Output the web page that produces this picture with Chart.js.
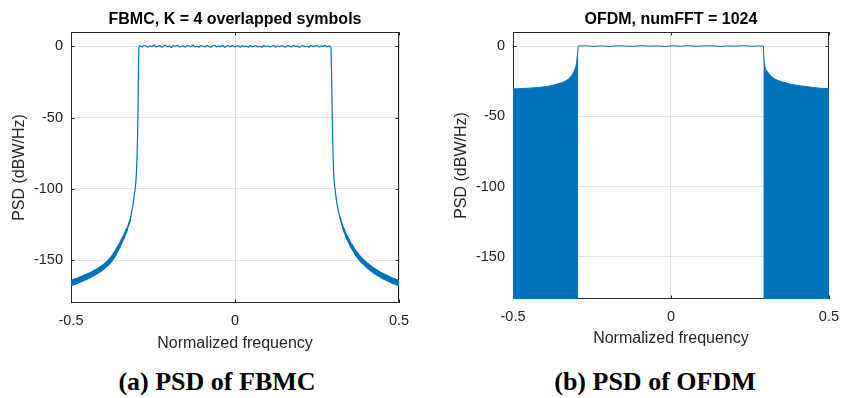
<!DOCTYPE html>
<html>
<head>
<meta charset="utf-8">
<script src="https://cdn.jsdelivr.net/npm/chart.js@4.4.1/dist/chart.umd.min.js"></script>
<style>
  html, body { margin: 0; padding: 0; background: #fff; }
  body { width: 848px; height: 398px; position: relative; overflow: hidden; }
  .panel { position: absolute; top: 0; }
  .caption {
    position: absolute;
    top: 367px;
    width: 424px;
    text-align: center;
    font: bold 26px/30px "Liberation Serif", "Times New Roman", serif;
    color: #000;
  }
</style>
</head>
<body>
<div class="panel" style="left:0"><canvas id="fbmc" width="424" height="360"></canvas></div>
<div class="panel" style="left:424px"><canvas id="ofdm" width="424" height="360"></canvas></div>
<div class="caption" style="left:5px">(a) PSD of FBMC</div>
<div class="caption" style="left:443px">(b) PSD of OFDM</div>

<script>
// axis ticks shared by both panels
const xTicks = [-0.5, 0, 0.5];
const yTicks = [-150, -100, -50, 0];
const yMin = -180;
const yMax = 10;

// FBMC: left skirt (freq, dB)
const fbmcLeftF  = [-0.500, -0.488, -0.470, -0.447, -0.425, -0.406, -0.390, -0.378, -0.366, -0.354, -0.340, -0.330, -0.320, -0.314, -0.309, -0.305, -0.302, -0.300, -0.2985, -0.297, -0.296, -0.295, -0.294, -0.293];
const fbmcLeftDb = [-166, -165, -163.3, -161, -158.3, -155.5, -152.5, -149.5, -145.5, -140.5, -134, -128.5, -122, -115, -108, -101, -94, -86, -76, -62, -48, -30, -12, -1];

// FBMC: passband ripple
const fbmcPassF  = [-0.290, -0.284, -0.278, -0.271, -0.266, -0.259, -0.254, -0.246, -0.242, -0.235, -0.230, -0.223, -0.218, -0.211, -0.206, -0.199, -0.194, -0.188, -0.182, -0.175, -0.170, -0.163, -0.158, -0.152, -0.146, -0.139, -0.134, -0.128, -0.122, -0.115, -0.110, -0.104, -0.098, -0.091, -0.086, -0.079, -0.074, -0.068, -0.062, -0.056, -0.050, -0.044, -0.038, -0.031, -0.026, -0.020, -0.014, -0.008, -0.002, 0.004, 0.010, 0.016, 0.022, 0.028, 0.034, 0.041, 0.046, 0.052, 0.058, 0.064, 0.070, 0.077, 0.082, 0.088, 0.094, 0.100, 0.106, 0.113, 0.118, 0.124, 0.130, 0.136, 0.142, 0.149, 0.154, 0.160, 0.166, 0.172, 0.178, 0.185, 0.190, 0.196, 0.202, 0.208, 0.214, 0.221, 0.226, 0.232, 0.238, 0.244, 0.250, 0.257, 0.262, 0.268, 0.274, 0.280, 0.286];
const fbmcPassDb = [0.4, -0.5, 0.7, 0.1, -0.6, 0.3, -0.2, 0.8, -0.4, -0.1, 0.5, -0.7, 0.2, 0.6, -0.3, 0.1, -0.8, 0.4, 0.0, 0.7, -0.5, -0.2, 0.3, -0.6, 0.5, 0.1, -0.4, 0.8, -0.3, 0.0, -0.7, 0.4, 0.2, -0.5, 0.6, -0.1, -0.6, 0.3, 0.7, -0.4, 0.1, -0.2, 0.5, -0.8, 0.2, 0.4, -0.3, 0.6, -0.5, 0.0, 0.3, -0.7, 0.5, -0.1, 0.2, -0.6, 0.7, -0.3, 0.1, 0.4, -0.5, 0.2, -0.8, 0.6, -0.2, 0.3, -0.4, 0.0, 0.7, -0.6, 0.2, -0.3, 0.5, -0.1, -0.7, 0.4, 0.1, -0.5, 0.6, -0.2, 0.3, -0.8, 0.2, 0.5, -0.4, 0.0, -0.6, 0.7, -0.3, 0.1, 0.4, -0.5, 0.2, -0.1, 0.6, -0.4, 0.3];

// FBMC: right skirt
const fbmcRightF  = [0.2927, 0.2940, 0.2955, 0.2970, 0.2985, 0.3000, 0.3020, 0.3055, 0.3100, 0.3150, 0.3200, 0.3300, 0.3405, 0.3550, 0.3700, 0.3860, 0.4050, 0.4270, 0.4500, 0.4820, 0.5000];
const fbmcRightDb = [-1, -14, -35, -55, -72, -84, -93, -101, -109, -115, -120, -127.5, -133.5, -140, -145.5, -150, -154, -157.8, -161, -164.5, -166];

// OFDM: out-of-band envelope (filled to the bottom) and passband
const ofdmLeftF  = [-0.500, -0.450, -0.420, -0.386, -0.360, -0.335, -0.320, -0.309, -0.302, -0.299, -0.296, -0.294, -0.2935];
const ofdmLeftDb = [-30.5, -30, -29.5, -28.5, -27, -25, -22.5, -19, -15, -12, -6, -1, 0];
const ofdmPassF  = [-0.2935, -0.270, -0.245, -0.220, -0.195, -0.170, -0.145, -0.120, -0.095, -0.070, -0.045, -0.020, 0.005, 0.030, 0.055, 0.080, 0.105, 0.130, 0.155, 0.180, 0.205, 0.230, 0.255, 0.280, 0.2925];
const ofdmPassDb = [0, 0.2, -0.2, 0.1, -0.3, 0.2, 0, -0.2, 0.3, -0.1, 0.1, -0.3, 0.2, -0.1, 0.3, -0.2, 0.1, 0.2, -0.3, 0.1, -0.1, 0.3, -0.2, 0.1, 0];
const ofdmRightF  = [0.2925, 0.2930, 0.2950, 0.2970, 0.3050, 0.3150, 0.3320, 0.3600, 0.3830, 0.4340, 0.4700, 0.5000];
const ofdmRightDb = [0, -3, -10, -14, -18, -21, -23.8, -26, -27.4, -29, -30, -30.4];

const BLUE = "#0072BD";
const AXIS = "#262626";
const GRID = "#e3e3e3";
const FONT = "'Liberation Sans', Arial, sans-serif";

function pts(xs, ys) {
  return xs.map((x, i) => ({ x, y: ys[i] }));
}

// MATLAB style box with inward tick marks, drawn under the data
const boxPlugin = {
  id: "box",
  beforeDatasetsDraw(chart) {
    const { ctx, chartArea: a, scales } = chart;
    ctx.save();
    ctx.strokeStyle = AXIS;
    ctx.lineWidth = 1;
    ctx.strokeRect(Math.round(a.left) + 0.5, Math.round(a.top) + 0.5, Math.round(a.right - a.left) - 1, Math.round(a.bottom - a.top) - 1);
    ctx.beginPath();
    const tl = 3.5;
    for (const v of xTicks) {
      const x = Math.round(scales.x.getPixelForValue(v)) + 0.5;
      ctx.moveTo(x, a.bottom); ctx.lineTo(x, a.bottom - tl);
      ctx.moveTo(x, a.top); ctx.lineTo(x, a.top + tl);
    }
    for (const v of yTicks) {
      const y = Math.round(scales.y.getPixelForValue(v)) + 0.5;
      ctx.moveTo(a.left, y); ctx.lineTo(a.left + tl, y);
      ctx.moveTo(a.right, y); ctx.lineTo(a.right - tl, y);
    }
    ctx.stroke();
    ctx.restore();
  },
};

function makeChart(id, title, datasets, opt) {
  return new Chart(document.getElementById(id), {
    type: "line",
    data: { datasets },
    options: {
      responsive: false,
      animation: false,
      devicePixelRatio: 1,
      layout: { padding: { left: opt.padLeft, right: opt.padRight, top: 0, bottom: 0 } },
      elements: { point: { radius: 0 }, line: { tension: 0 } },
      plugins: {
        legend: { display: false },
        tooltip: { enabled: false },
        title: {
          display: true,
          text: title,
          fullSize: false,
          color: "#000",
          font: { family: FONT, size: 16, weight: "bold" },
          padding: { top: 9.5, bottom: 3.3 },
        },
      },
      scales: {
        x: {
          type: "linear",
          min: -0.5,
          max: 0.5,
          afterBuildTicks: (s) => { s.ticks = xTicks.map((v) => ({ value: v })); },
          afterFit: (s) => { s.height = opt.xHeight; },
          grid: { color: GRID, drawTicks: false },
          border: { display: false },
          ticks: {
            color: AXIS,
            padding: 9,
            maxRotation: 0,
            font: { family: FONT, size: 14.5 },
            callback: (v) => String(v),
          },
          title: {
            display: true,
            text: "Normalized frequency",
            color: AXIS,
            font: { family: FONT, size: 16 },
            padding: { top: 0, bottom: opt.xTitlePad },
          },
        },
        y: {
          type: "linear",
          min: yMin,
          max: yMax,
          afterBuildTicks: (s) => { s.ticks = yTicks.map((v) => ({ value: v })); },
          afterFit: (s) => { s.width = 71; },
          grid: { color: GRID, drawTicks: false },
          border: { display: false },
          ticks: {
            color: AXIS,
            padding: 8,
            font: { family: FONT, size: 14.5 },
            callback: (v) => String(v),
          },
          title: {
            display: true,
            text: "PSD (dBW/Hz)",
            color: AXIS,
            font: { family: FONT, size: 16 },
            padding: { top: 10.4, bottom: 0 },
          },
        },
      },
    },
    plugins: [boxPlugin],
  });
}

// skirt line gets thicker as it flattens out (dense spectral spread)
function skirtWidth(ctx) {
  const y = (ctx.p0.parsed.y + ctx.p1.parsed.y) / 2;
  if (y > -120) return 1.2;
  return 1.2 + Math.min(5, (-120 - y) * 0.11);
}

makeChart("fbmc", "FBMC, K = 4 overlapped symbols", [
  {
    data: pts(fbmcLeftF, fbmcLeftDb).concat(pts(fbmcPassF, fbmcPassDb), pts(fbmcRightF, fbmcRightDb)),
    borderColor: BLUE,
    borderWidth: 1.2,
    borderCapStyle: "round",
    borderJoinStyle: "round",
    cubicInterpolationMode: "monotone",
    fill: false,
    clip: 0,
    segment: { borderWidth: skirtWidth },
  },
], { padLeft: 0, padRight: 25, xHeight: 57, xTitlePad: 6.4 });

makeChart("ofdm", "OFDM, numFFT = 1024", [
  { data: pts(ofdmLeftF, ofdmLeftDb), borderColor: BLUE, backgroundColor: BLUE, borderWidth: 1, fill: "start", clip: 0, cubicInterpolationMode: "monotone" },
  { data: pts(ofdmPassF, ofdmPassDb), borderColor: BLUE, borderWidth: 1, fill: false, clip: 0 },
  { data: pts(ofdmRightF, ofdmRightDb), borderColor: BLUE, backgroundColor: BLUE, borderWidth: 1, fill: "start", clip: 0, cubicInterpolationMode: "monotone" },
], { padLeft: 18, padRight: 10, xHeight: 61, xTitlePad: 11.4 });
</script>
</body>
</html>
